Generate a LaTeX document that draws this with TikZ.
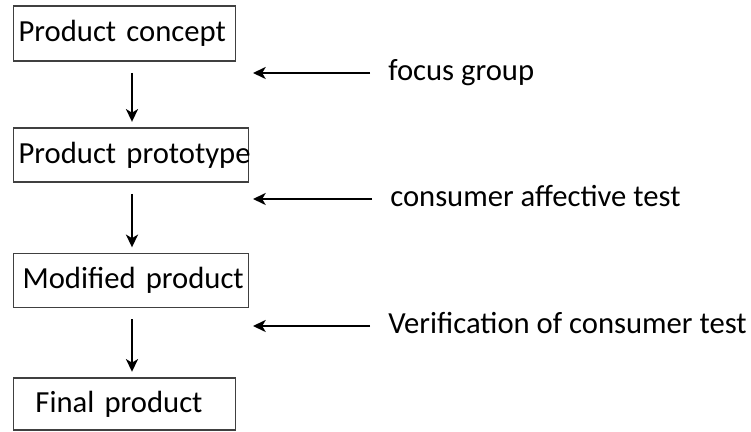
\documentclass[tikz,border=0pt]{standalone}
\usepackage{fontspec}
\setmainfont{Carlito}
\usetikzlibrary{arrows.meta}

\begin{document}
\begin{tikzpicture}[x=0.025cm,y=-0.025cm,
	stage/.style={draw=black!75, line width=0.8pt, anchor=west, align=left, minimum height=38.4pt, font=\fontsize{21.8}{26}\selectfont},
	method/.style={anchor=west, inner sep=0pt, font=\fontsize{21.8}{26}\selectfont, execute at begin node=\strut},
	flow/.style={line width=1.6pt, -{Stealth[length=9pt,width=8.5pt,inset=2.5pt]}, shorten <=8pt, shorten >=4pt},
	feed/.style={line width=1.6pt, -{Stealth[length=9pt,width=8.5pt,inset=2.5pt]}, shorten <=12.8pt}]

	\useasboundingbox (0,0) rectangle (751,432);

	% stages
	\node[stage, inner xsep=3.6pt, text width=150.8pt, minimum height=39.1pt] (concept) at (13,33.5) {\mbox{Product concept}};
	\node[stage, inner xsep=3.6pt, text width=160pt] (prototype) at (13,155) {\mbox{Product prototype}};
	\node[stage, inner xsep=6.4pt, text width=154.4pt] (modified) at (13,280.5) {\mbox{Modified product}};
	\node[stage, inner xsep=15.6pt, text width=126.6pt, minimum height=37pt] (final) at (13,404) {\mbox{Final product}};

	% tests
	\node[method] (focus) at (388,73) {focus group};
	\node[method] (affective) at (390,199) {consumer affective test};
	\node[method] (verify) at (388,326) {Verification of consumer test};

	\coordinate (col) at (132,0);
	\coordinate (tip) at (253,0);

	\draw[flow] (concept.south -| col) -- (prototype.north -| col);
	\draw[flow] (prototype.south -| col) -- (modified.north -| col);
	\draw[flow] (modified.south -| col) -- (final.north -| col);

	\draw[feed] (focus.west) -- (focus.west -| tip);
	\draw[feed] (affective.west) -- (affective.west -| tip);
	\draw[feed] (verify.west) -- (verify.west -| tip);

\end{tikzpicture}
\end{document}
